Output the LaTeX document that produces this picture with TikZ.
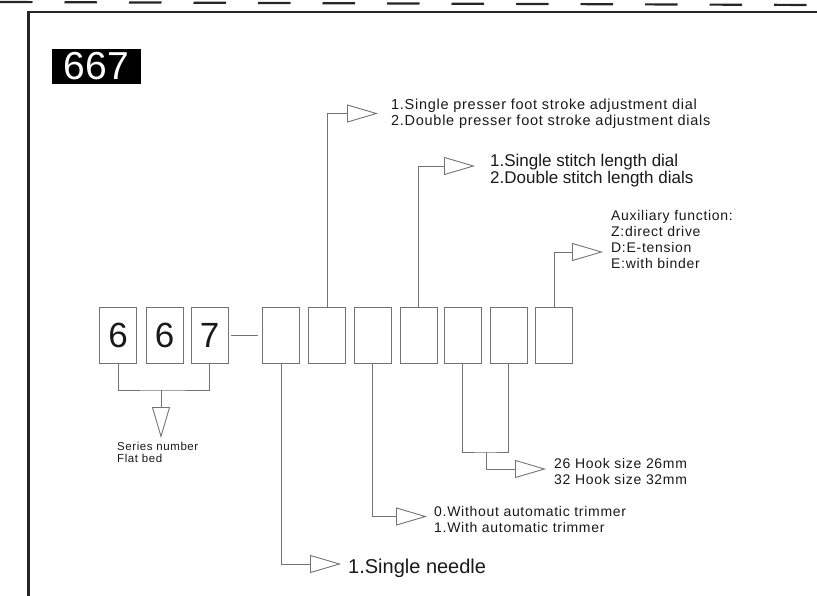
\documentclass[tikz,border=0pt]{standalone}
\usepackage{fontspec}
\setmainfont{Liberation Sans}
\newfontfamily\widesf[LetterSpace=5]{Liberation Sans}
\usetikzlibrary{arrows.meta}

\begin{document}
\begin{tikzpicture}[
  x=1pt, y=-1pt,
  slot/.style={draw=black!55, line width=0.9pt, minimum width=37pt,
    minimum height=56pt, inner sep=0pt},
  digit/.style={slot, font=\fontsize{35}{35}\selectfont, text=black!90},
  link/.style={draw=black!55, line width=0.9pt},
  tip/.style={-{Triangle[open, length=31pt, width=18pt]}},
  note/.style={anchor=base west, align=left, inner sep=0pt, text=black!90,
    font=\widesf\fontsize{14}{16}\selectfont}
]
\useasboundingbox (0,0) rectangle (817,596);

% Page frame and cut line.
\draw[black!85, line width=2.2pt, dash pattern=on 32.5pt off 32pt] (0,2) -- (817,5);
\draw[black!85, line width=2.3pt] (28.5,596) |- (817,12);

% Model badge.
\node[fill=black, text=white, minimum width=89pt, minimum height=35pt, inner sep=0pt,
  font=\fontsize{39}{39}\selectfont] (badge) at (96.5,66.5) {667};

% Code boxes.
\node[digit] (d1) at (118,335) {6};
\node[digit] (d2) at (164.5,335) {6};
\node[digit] (d3) at (209.5,335) {7};
\foreach \x [count=\i] in {281,327,372.5,418.5,462.5,508.5,554}
  \node[slot] (k\i) at (\x,335) {};
\draw[link, shorten <=3pt, shorten >=4pt] (d3.east) -- (k1.west);

% Series number (base = last line).
\coordinate (serbar) at (161,390);
\coordinate (sertip) at (161,438);
\draw[link] (d1.south) |- (serbar) -| (d3.south);
\draw[link, tip] (serbar) -- (sertip);
\node[note, font=\widesf\fontsize{11.5}{12}\selectfont] (sertxt) at (117,462)
  {Series number\\Flat bed};

% Presser foot dial.
\coordinate (ptip) at (378,113.5);
\draw[link, tip] (k2.north) |- (ptip);
\node[note, font=\widesf\fontsize{14.5}{16}\selectfont] (ptxt) at (391,126)
  {1.Single presser foot stroke adjustment dial\\2.Double presser foot stroke adjustment dials};

% Stitch length dial.
\coordinate (stip) at (475,166);
\draw[link, tip] (k4.north) |- (stip);
\node[note, font=\fontsize{17}{17}\selectfont] (stxt) at (490,184)
  {1.Single stitch length dial\\2.Double stitch length dials};

% Auxiliary function.
\coordinate (atip) at (603,252);
\draw[link, tip] (k7.north) |- (atip);
\node[note] (atxt) at (611,269)
  {Auxiliary function:\\Z:direct drive\\D:E-tension\\E:with binder};

% Hook size.
\coordinate (hookbar) at (486,452);
\coordinate (htip) at (546,469);
\draw[link] (k5.south) |- (hookbar) -| (k6.south);
\draw[link, tip] (hookbar) |- (htip);
\node[note] (htxt) at (554,484) {26 Hook size 26mm\\32 Hook size 32mm};

% Trimmer.
\coordinate (ttip) at (427,516.5);
\draw[link, tip] (k3.south) |- (ttip);
\node[note] (ttxt) at (434,532)
  {0.Without automatic trimmer\\1.With automatic trimmer};

% Needle.
\coordinate (ntip) at (341,564);
\draw[link, tip] (k1.south) |- (ntip);
\node[note, font=\fontsize{20}{20}\selectfont] (ntxt) at (348,573) {1.Single needle};
\end{tikzpicture}
\end{document}
